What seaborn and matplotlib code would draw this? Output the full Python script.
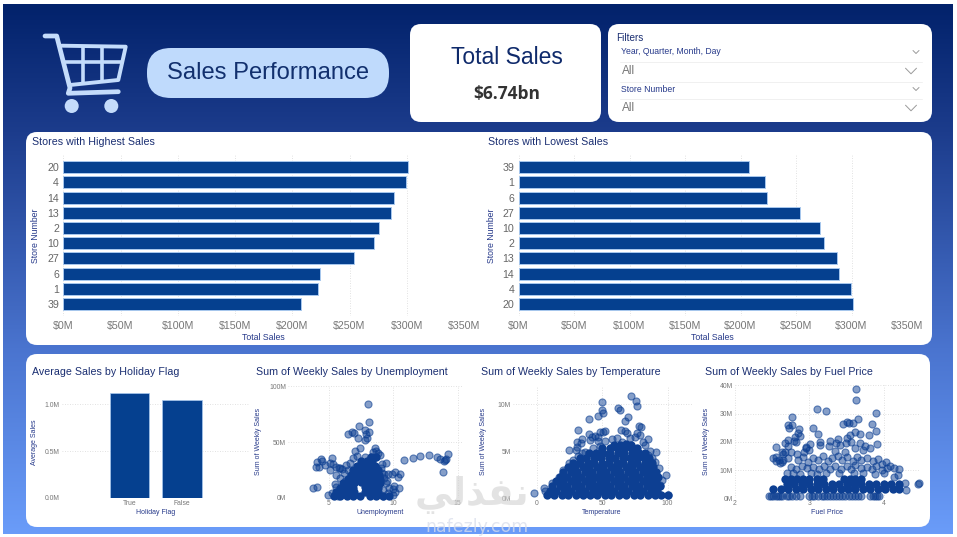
import numpy as np
import pandas as pd
import matplotlib
matplotlib.use("Agg")
import matplotlib.pyplot as plt
import seaborn as sns
from matplotlib.patches import FancyBboxPatch, Circle
from matplotlib.lines import Line2D
from matplotlib.colors import to_rgba

# ---------- data ----------
HIGH_STORES = ["20", "4", "14", "13", "2", "10", "27", "6", "1", "39"]
HIGH_SALES = [301.4, 299.5, 288.9, 286.5, 275.4, 271.6, 253.9, 223.8, 222.4, 207.4]
LOW_STORES = ["39", "1", "6", "27", "10", "2", "13", "14", "4", "20"]
LOW_SALES = [207.4, 222.4, 223.8, 253.9, 271.6, 275.4, 286.5, 288.9, 299.5, 301.4]
HOLIDAY_FLAGS = ["True", "False"]
HOLIDAY_AVG = [1.12, 1.043]

UNEMP_OPEN = [
 (8.05,84.2),(8.13,68.2),(7.38,64),(7.82,60.4),(8.15,58.6),(7.9,56.8),(6.95,58.3),(6.51,57.1),(6.85,58.6),
 (7.3,53.3),(7.8,52),(7.95,53.3),(10.87,34.2),(11.56,35.4),(12.1,37.2),(12.82,38.7),(13.41,36.3),(13.64,34.5),
 (14.23,39.3),(14.1,34.5),(13.95,33),(14.03,33.6),(13.9,22.9),(3.82,8.9),(4.13,9.8),(4.38,35),(4.1,31.8),
 (4.5,33),(4,28),(4.28,28),(4.72,29.8),(5.26,35.7),(5.13,31),(5.36,30.4),(5.08,24.7),(5.6,27.4),(5.87,26.5),
 (8.62,44.3),(8.7,42.3),(8.44,41.4),(8.95,38.4),(8.82,39.9),(7.44,44.3),(7.05,42.3),(6.9,35.4),(7.23,37.5),
 (7.8,36.3),(8.26,36.9),(6.36,29.8),(6.64,31),(9.13,30.4),(9.46,31.5),(9.08,26.5),(9.33,21.1),(9.59,21.1),
 (9.9,21.1),(10.15,23.5),(10.56,21.1),(10.36,18.5),(5.8,27),(6,25.6),(5.6,20.5),(5.87,17.6),(6.2,22),
 (5.49,12.5),(5.6,10),(10.1,10.7),(10.44,9.2),(9.97,8),(10.18,5.7),(10,2.7),(9.6,4.2),(9.2,7.1),(9.46,13),
 (4.97,2.7),(5.23,4.2),(5.5,2.7),(5.74,1.8),(9.3,18),(9.5,15),(9.1,22),(6.3,15),(6.5,25),(9.25,2),(9.7,9),
]
UNEMP_CORE = [
 (5.4,1.5),(5.9,1.5),(6.4,1.5),(6.9,1.5),(7.4,1.5),(8.2,1.5),(8.7,1.5),(9.2,1.5),(9.7,1.5),
 (5.6,5),(6.1,5),(6.6,5),(7.0,5),(7.8,5),(8.3,5),(8.8,5),
 (5.9,9),(6.4,9),(6.9,9),(7.8,10),(8.3,9),(8.8,9),
 (6.1,13),(6.5,13),(7,13),(7.5,14),(8,13),(8.5,13),(9,13),
 (6.5,17),(7,17),(7.5,18),(8,17),(8.5,17),(9,17),
 (6.7,21),(7.1,21),(7.5,22),(8,21),(8.5,21),(8.9,21),
 (6.9,25),(7.4,25),(7.9,25),(8.4,25),(8.8,25),
 (7.2,29),(7.7,29),(8.2,29),(8.6,29),(7.5,33),(8.0,33),(8.4,33),(8.3,37),(8.7,37),
]

TEMP_OPEN = [
 (72.3,10.85),(75.6,10.4),(76.3,9.85),(50.1,10.28),(50.1,9.36),(50.4,9.04),(46.6,8.72),(39.7,8.44),(62.3,9.57),
 (63.6,9.4),(70,8.69),(67.7,8.22),(31.3,7.26),(52.4,7.2),(50.9,7.1),(48.3,7.02),(64.1,7.24),(67.4,7.2),(68.7,6.9),
 (78.1,7.7),(79.4,7.55),(76.8,7),(78.9,6.7),(40.2,6.8),(42,6.55),(44.5,6.66),(47,6.55),(46.6,6.1),(40.7,6.2),
 (34.4,6.3),(30.5,5.95),(33.6,5.85),(30.5,5.5),(24.7,5.17),(30,5.14),(85.2,6.3),(81.4,6),(82.7,5.67),(86.5,5.03),
 (91,4.9),(61.6,6.38),(57.3,6.27),(52.2,6.13),(71.2,6.38),(75,6.55),(64.9,6),(36.9,4.96),(34.4,4.78),(31.8,4.54),
 (28,4.07),(24.9,3.79),(20.4,3),(17.3,2.3),(11.5,1.62),(5.9,1.06),(6.4,.78),(-2,0.6),(99,2.48),(93.6,3.26),
 (90.3,3.9),(95.4,1.95),(94.2,1.42),(100,.35),(43,5.3),(48,5.6),(85,4.6),(88,4.3),
]
TEMP_CORE = [
 (8,.3),(13,.3),(19,.3),(24,.3),(30,.3),(35,.3),(41,.3),(46,.3),(52,.3),(57,.3),(63,.3),(68,.3),(74,.3),(79,.3),(85,.3),(90,.3),(95,.3),(100,.3),
 (10,.8),(15,.8),(21,.8),(26,.8),(32,.8),(37,.8),(43,.8),(48,.8),(54,.8),(59,.8),(65,.8),(70,.8),(76,.8),(81,.8),(87,.8),(92,.8),
 (12,1.3),(18,1.3),(23,1.3),(29,1.3),(34,1.3),(40,1.3),(45,1.3),(51,1.3),(56,1.3),(62,1.3),(67,1.3),(73,1.3),(78,1.3),(84,1.3),(89,1.3),(94,1.3),
 (15,1.8),(20,1.8),(26,1.8),(31,1.8),(37,1.8),(42,1.8),(48,1.8),(53,1.8),(59,1.8),(64,1.8),(70,1.8),(75,1.8),(81,1.8),(86,1.8),(91,1.8),
 (18,2.3),(23,2.3),(29,2.3),(34,2.3),(40,2.3),(45,2.3),(51,2.3),(56,2.3),(62,2.3),(67,2.3),(73,2.3),(78,2.3),(84,2.3),(89,2.3),(93,2.3),
 (20,2.8),(26,2.8),(31,2.8),(37,2.8),(42,2.8),(48,2.8),(53,2.8),(59,2.8),(64,2.8),(70,2.8),(75,2.8),(81,2.8),(86,2.8),(91,2.8),
 (24,3.3),(29,3.3),(35,3.3),(40,3.3),(46,3.3),(51,3.3),(57,3.3),(62,3.3),(68,3.3),(73,3.3),(79,3.3),(84,3.3),(89,3.3),
 (28,3.8),(33,3.8),(39,3.8),(44,3.8),(50,3.8),(55,3.8),(61,3.8),(66,3.8),(72,3.8),(77,3.8),(83,3.8),(88,3.8),
 (33,4.3),(38,4.3),(44,4.3),(49,4.3),(55,4.3),(60,4.3),(66,4.3),(71,4.3),(77,4.3),(82,4.3),(86,4.3),
 (40,4.8),(45,4.8),(51,4.8),(56,4.8),(62,4.8),(67,4.8),(73,4.8),(78,4.8),(83,4.8),
 (50,5.3),(56,5.3),(61,5.3),(67,5.3),(72,5.3),(77,5.3),(59,5.7),(64,5.7),(68,5.8),(72,5.7),
]

FUEL_OPEN = [
 (3.63,38.6),(3.63,34.7),(3.11,31.6),(3.23,30.8),(2.77,28.9),(3.89,30.3),(2.72,25.8),(2.77,26.1),(2.73,24.8),
 (2.86,24.5),(3.05,24.9),(3.45,26.3),(3.51,26.9),(3.53,26.8),(3.59,26.6),(3.66,28),(3.84,26.4),(3.9,23.8),
 (3.12,22.6),(2.85,23),(2.88,22.2),(2.81,21.8),(3.61,23.5),(3.68,22.9),(3.8,22.5),(3.55,22.4),(3.51,21.2),
 (3.39,21),(3.28,20.3),(3.15,19.8),(3.15,18.9),(3.01,19.2),(3.36,19.7),(3.41,18.9),(3.49,19.5),(3.56,20),
 (3.91,19.2),(3.68,19.5),(2.72,20.6),(2.79,20.2),(2.82,19.8),(2.67,19.5),(2.56,18.2),(2.72,18.6),(2.96,18.2),
 (2.95,17.7),(3,17.1),(3.26,18.6),(3.75,18.5),(3.82,17.7),(2.63,16.5),(2.68,16.5),(2.75,16.5),(2.93,16.5),
 (3.35,16.7),(3.48,16.5),(3.61,17.7),(3.72,17.1),(2.51,14.4),(2.55,14.6),(2.56,13.2),(2.61,12.4),(2.65,13.6),
 (2.71,14.3),(2.6,13.6),(2.65,15.7),(2.63,12.7),(2.83,15.6),(4.46,5.2),(4.47,5.3),(4.29,5.3),(4.3,2.8),(4.2,10.4),
 (4.13,10.6),(4.19,8.3),(4.13,7.7),
 (2.46,.7),(2.49,.7),(2.52,.7),(2.55,.7),(2.58,.7),(2.61,.7),(2.64,.7),(2.7,.7),(2.73,.7),(2.77,.7),(2.82,.7),(2.87,.7),
 (3.0,.7),(3.03,.7),(3.07,.7),(3.12,.7),(3.17,.7),(3.2,.7),(3.24,.7),(3.28,.7),(3.32,.7),(3.36,.7),(3.4,.7),(3.44,.7),
 (3.48,.7),(3.53,.7),(3.57,.7),(3.61,.7),(3.66,.7),(3.7,.7),(3.82,.7),(3.85,.7),(3.88,.7),(3.91,.7),(3.94,.7),
 (2.85,13.5),(2.92,14.5),(2.98,13),(3.05,14.2),(3.12,13.6),(3.18,14.8),(3.25,13.2),(3.3,14.4),(3.38,14.9),(3.44,13.4),
 (3.5,14.6),(3.58,13.3),(3.64,14.7),(3.7,13.5),(3.78,14.2),(3.85,13.1),(3.92,13.9),(3.98,12.2),(4.03,12.8),(4.08,11.5),
 (2.75,11),(2.82,10.4),(2.9,11.5),(2.97,10.6),(3.05,11.2),(3.13,10.2),(3.2,11.4),(3.28,10.5),(3.35,11.6),(3.42,10.4),
 (3.5,11.3),(3.56,10.2),(3.62,11.8),(3.7,10.6),(3.77,11.1),(3.84,10.3),(3.9,11.3),(3.97,10.1),(4.04,10.7),
 (2.7,8.8),(2.78,9),(2.88,8.6),(3.02,9),(3.1,8.5),(3.22,8.8),(3.4,9),(3.6,9),(3.72,8.8),(3.88,8.6),(4.0,8.9),
]
FUEL_CORE = [
 (2.52,3.3),(2.62,3.3),(2.72,3.3),(2.82,3.3),(2.92,3.3),(3.02,3.3),(3.12,3.3),(3.22,3.3),(3.32,3.3),(3.42,3.3),
 (3.52,3.3),(3.62,3.3),(3.72,3.3),(3.82,3.3),(3.92,3.3),(4.02,3.3),(4.12,3.3),(4.2,3.3),
 (2.7,5),(2.8,5),(2.9,5),(3.0,5),(3.1,5),(3.2,5),(3.3,5),(3.4,5),(3.5,5),(3.6,5),(3.7,5),(3.8,5),(3.9,5),(4.0,5),(4.1,5),(4.2,5),
 (2.68,6.8),(2.76,6.8),(2.84,6.8),(2.92,6.8),(3.0,6.8),(3.1,6.8),(3.18,6.8),(3.46,6.8),(3.54,6.8),(3.62,6.8),(3.7,6.8),
]

# ---------- style ----------
BAR_BLUE = "#05408f"
BAR_EDGE = "#a8c8ee"
TITLE_C = "#1b2f72"
LABEL_C = "#26398a"
TICK_C = "#777777"
DOT_C = "#0d3f92"
GRID_C = "#d8d8d8"
FONT = ["Liberation Sans", "DejaVu Sans"]

sns.set_theme(style="white")
plt.rcParams["font.family"] = FONT

W, H = 957, 537
fig = plt.figure(figsize=(W / 100, H / 100), dpi=100, facecolor="white")


def make_axes(left, right, top, bottom):
    return fig.add_axes([left / W, 1 - bottom / H, (right - left) / W, (bottom - top) / H], facecolor="none", zorder=2)


# ---------- canvas ----------
bg = fig.add_axes([0, 0, 1, 1], zorder=0)
bg.set_xlim(0, W)
bg.set_ylim(H, 0)
bg.axis("off")
stops = np.array([to_rgba(c)[:3] for c in ["#02226b", "#1c3c8c", "#4a74cf", "#6a9cf9"]])
pos = np.array([0, 0.24, 0.65, 1.0])
grad = np.stack([np.interp(np.linspace(0, 1, 256), pos, stops[:, i]) for i in range(3)], axis=1)[:, None, :]
bg.imshow(grad, extent=(3, 953, 534, 4), aspect="auto", zorder=0)
bg.set_xlim(0, W)
bg.set_ylim(H, 0)


def card(x0, y0, x1, y1, r=11, color="white"):
    bg.add_patch(FancyBboxPatch((x0 + r, y0 + r), x1 - x0 - 2 * r, y1 - y0 - 2 * r,
                                boxstyle=f"round,pad={r},rounding_size={r}", fc=color, ec="none", zorder=1))


card(410, 24, 601, 122)
card(608, 24, 932, 122)
card(26, 132, 932, 345)
card(26, 354, 930, 527)
card(147, 48, 389, 98, r=24, color="#bfdafc")

# cart icon
CART = "#c4dcfb"
for xs, ys, lw in [
    ([45, 56.7, 70, 68.3, 118.3], [36, 36, 88, 93.3, 91.7], 3.4),
    ([61.7, 125.7, 118.3, 70], [45.7, 46.7, 80, 85], 2.8),
    ([83.3, 83.3], [47, 82], 2.6),
    ([101.7, 101.7], [47, 81], 2.6),
    ([65, 122], [62.3, 62.3], 2.6),
]:
    bg.add_line(Line2D(xs, ys, color=CART, lw=lw, solid_capstyle="round", solid_joinstyle="round", zorder=2))
bg.add_patch(Circle((71.7, 106), 7, fc=CART, ec="none", zorder=2))
bg.add_patch(Circle((111.3, 106), 7, fc=CART, ec="none", zorder=2))

bg.text(268, 73, "Sales Performance", fontsize=17.1, color="#12306e", ha="center", va="center", zorder=3)
bg.text(507, 58, "Total Sales", fontsize=16.5, color="#0f2a6b", ha="center", va="center", zorder=3)
bg.text(507, 94, "$6.74bn", fontsize=12.5, color="#333333", ha="center", va="center", fontweight="bold",
        family=["Open Sans", "DejaVu Sans"], zorder=3)
bg.text(616, 38, "Filters", fontsize=7.2, color="#1b2f72", va="center", zorder=3)
for y, t in [(52, "Year, Quarter, Month, Day"), (89, "Store Number")]:
    bg.text(621, y, t, fontsize=6.2, color="#26398a", va="center", zorder=3)
for y in (71, 108):
    bg.text(622, y, "All", fontsize=8.5, color="#777777", va="center", zorder=3)
for y, dx, dy in [(52, 3, 1.5), (89, 3, 1.5), (71, 5.5, 2.8), (108, 5.5, 2.8)]:
    cx = 916 if dx == 3 else 911
    bg.add_line(Line2D([cx - dx, cx, cx + dx], [y - dy, y + dy, y - dy], color="#9a9a9a", lw=0.7, zorder=3))
for y in (62, 82, 99):
    bg.add_line(Line2D([620, 922], [y, y], color="#f0f0f0", lw=0.7, zorder=2))


def style_axes(ax):
    sns.despine(ax=ax, left=True, bottom=True)
    ax.tick_params(length=0)
    ax.set_axisbelow(True)


def pxlabel(ax, which, text, px, py, size, color=LABEL_C):
    t = ax.transAxes.inverted().transform((px, H - py))
    if which == "x":
        ax.set_xlabel(text, fontsize=size, color=color)
        ax.xaxis.set_label_coords(t[0], t[1])
        ax.xaxis.label.set_va("center")
    else:
        ax.set_ylabel(text, fontsize=size, color=color)
        ax.yaxis.set_label_coords(t[0], t[1])
        ax.yaxis.label.set_va("center")


# ---------- horizontal bars ----------
def hbars(stores, sales, left, right, lab_x, xlab_x, title, title_x):
    ax = make_axes(left, right, 155, 316)
    df = pd.DataFrame({"store": stores, "sales": sales})
    sns.barplot(data=df, y="store", x="sales", order=stores, color=BAR_BLUE, saturation=1, width=0.79,
                edgecolor=BAR_EDGE, linewidth=0.7, ax=ax)
    ax.set_xlim(0, 350)
    ax.set_ylim(9.788, -0.808)
    ax.set_xticks([0, 50, 100, 150, 200, 250, 300, 350])
    ax.set_xticklabels([f"${v}M" for v in [0, 50, 100, 150, 200, 250, 300, 350]], fontsize=7.7, color=TICK_C)
    ax.tick_params(axis="y", labelsize=7.7, labelcolor="#666666", pad=3)
    ax.tick_params(axis="x", pad=3.5)
    ax.grid(axis="x", color=GRID_C, ls=(0, (1, 2)), lw=0.6)
    style_axes(ax)
    pxlabel(ax, "y", "Store Number", lab_x, 235.7, 6.3)
    pxlabel(ax, "x", "Total Sales", xlab_x, 337, 6.3)
    bg.text(title_x, 142, title, fontsize=7.65, color=TITLE_C, va="center", zorder=3)


hbars(HIGH_STORES, HIGH_SALES, 63.3, 464, 35.7, 263, "Stores with Highest Sales", 32)
hbars(LOW_STORES, LOW_SALES, 518.5, 907, 491, 712, "Stores with Lowest Sales", 487.5)

# ---------- holiday bars ----------
ax = make_axes(62, 250, 388, 497.7)
df = pd.DataFrame({"flag": HOLIDAY_FLAGS, "avg": HOLIDAY_AVG})
sns.barplot(data=df, x="flag", y="avg", order=HOLIDAY_FLAGS, color=BAR_BLUE, saturation=1, width=0.76,
            edgecolor=BAR_EDGE, linewidth=0.5, ax=ax)
ax.set_xlim(-1.30, 2.31)
ax.set_ylim(0, 1.175)
ax.set_yticks([0, 0.5, 1.0])
ax.set_yticklabels(["0.0M", "0.5M", "1.0M"])
ax.tick_params(labelsize=4.9, labelcolor=TICK_C, pad=1.5)
ax.grid(axis="y", color=GRID_C, ls=(0, (1, 2)), lw=0.6)
style_axes(ax)
pxlabel(ax, "x", "Holiday Flag", 156, 512.7, 5)
pxlabel(ax, "y", "Average Sales", 34, 441.7, 5)
bg.text(32, 372, "Average Sales by Holiday Flag", fontsize=7.65, color=TITLE_C, va="center", zorder=3)


# ---------- scatters ----------
def scatter(open_pts, core_pts, xname, box, xlim, ylim, xticks, xtl, yticks, ytl, lab_x, xlab_x, title, title_x):
    ax = make_axes(*box)
    core = pd.DataFrame(core_pts, columns=[xname, "sales"])
    pts = pd.DataFrame(open_pts, columns=[xname, "sales"])
    sns.scatterplot(data=core, x=xname, y="sales", s=36, color=DOT_C, edgecolor=DOT_C, linewidth=0, alpha=1,
                    clip_on=False, ax=ax)
    sns.scatterplot(data=pts, x=xname, y="sales", s=26, facecolor=to_rgba(DOT_C, 0.5),
                    edgecolor=to_rgba(DOT_C, 0.6), linewidth=0.8, clip_on=False, ax=ax)
    ax.set_xlim(*xlim)
    ax.set_ylim(*ylim)
    ax.set_xticks(xticks)
    ax.set_xticklabels(xtl)
    ax.set_yticks(yticks)
    ax.set_yticklabels(ytl)
    ax.tick_params(labelsize=4.9, labelcolor=TICK_C, pad=1.5)
    ax.grid(True, color=GRID_C, ls=(0, (1, 2)), lw=0.6)
    style_axes(ax)
    pxlabel(ax, "x", xname, xlab_x, 513, 5)
    pxlabel(ax, "y", "Sum of Weekly Sales", lab_x, 441.7, 5)
    bg.text(title_x, 372, title, fontsize=7.65, color=TITLE_C, va="center", zorder=3)


scatter(UNEMP_OPEN, UNEMP_CORE, "Unemployment", (288, 462, 385.7, 498), (1.85, 15.34), (0, 100.4),
        [5, 10, 15], ["5", "10", "15"], [0, 50, 100], ["0M", "50M", "100M"], 258.7, 380,
        "Sum of Weekly Sales by Unemployment", 256)
scatter(TEMP_OPEN, TEMP_CORE, "Temperature", (513, 693, 386, 498.3), (-18.1, 119.4), (0, 11.95),
        [0, 50, 100], ["0", "50", "100"], [0, 5, 10], ["0M", "5M", "10M"], 483.7, 602,
        "Sum of Weekly Sales by Temperature", 481)
scatter(FUEL_OPEN, FUEL_CORE, "Fuel Price", (734.7, 920, 385.3, 498.3), (2, 4.485), (0, 40),
        [2, 3, 4], ["2", "3", "4"], [0, 10, 20, 30, 40], ["0M", "10M", "20M", "30M", "40M"], 707, 827,
        "Sum of Weekly Sales by Fuel Price", 705)

# ---------- watermark ----------
fig.text(472 / W, 1 - 495 / H, "\ufef2\ufedf\ufeac\ufed4\ufee7", fontsize=27, fontweight="bold", color=(0.82, 0.82, 0.82, 0.6),
         ha="center", va="center", family=["DejaVu Sans"], zorder=10)
fig.text(477 / W, 1 - 527 / H, "nafezly.com", fontsize=12.5, color=(0.85, 0.87, 0.92, 0.75),
         ha="center", va="center", family=["DejaVu Sans"], zorder=10)

fig.savefig("out.png", dpi=100)
